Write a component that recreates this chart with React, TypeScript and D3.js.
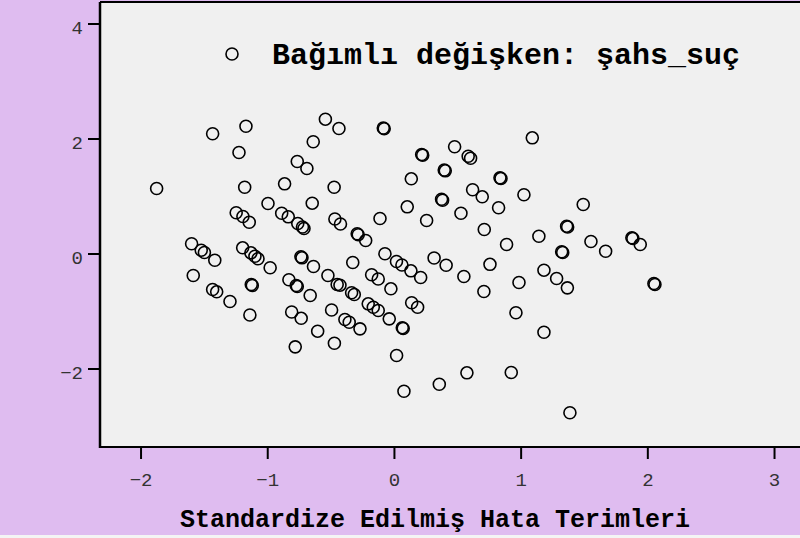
import React, { useEffect, useRef } from "react";
import * as d3 from "d3";

// standardize edilmiş hata terimleri (x) ve bağımlı değişken değerleri (y)
const hataTerimleri = [
  -1.431, -1.168, -1.223, -1.873, -1.178, -0.541, -0.434, -0.637, -0.763, -0.687,
  -0.863, -0.472, -0.994, -0.645, -1.245, -1.192, -1.142, -0.886, -0.834, -0.759,
  -0.71, -0.722, -0.466, -0.422, -1.597, -1.521, -1.496, -1.414, -1.194, -1.129,
  -1.097, -1.073, -0.977, -0.726, -0.734, -0.635, -0.521, -1.584, -0.829, -0.763,
  -0.771, -1.431, -1.399, -1.294, -1.118, -1.126, -1.137, -0.661, -0.448, -0.807,
  -0.732, -0.602, -0.492, -0.47, -0.779, -0.077, -0.084, 0.227, 0.219, 0.479,
  0.586, 0.605, 1.092, 0.405, 0.397, 0.137, 0.845, 0.837, 0.621, 0.697,
  1.026, 0.384, 0.376, 0.105, 0.529, 0.826, -0.11, 0.258, -0.29, -0.282,
  -0.223, 0.713, 1.144, 1.363, 1.371, 0.889, 1.324, 1.332, -0.071, 0.02,
  0.063, 0.134, 0.317, 0.412, -0.325, 0.758, 1.184, 1.284, 1.369, -0.176,
  -0.124, 0.211, 0.552, 0.987, 1.494, 1.555, 1.671, 1.878, 1.886, 1.944,
  2.052, 2.06, 1.184, 1.389, -0.426, -0.334, -0.313, -0.024, 0.71, -0.203,
  -0.163, -0.124, 0.14, 0.187, -0.037, -0.387, -0.353, -0.268, 0.073, 0.066,
  0.021, 0.963, 0.079, 0.358, 0.576, 0.926,
];

const bagimliDegerler = [
  2.082, 2.214, 1.757, 1.13, 1.153, 2.336, 2.174, 1.943, 1.6, 1.478,
  1.212, 1.153, 0.87, 0.875, 0.708, 0.643, 0.544, 0.701, 0.638, 0.522,
  0.435, 0.461, 0.6, 0.513, 0.169, 0.057, 0.017, -0.118, 0.099, 0.012,
  -0.047, -0.092, -0.247, -0.075, -0.057, -0.226, -0.383, -0.383, -0.457, -0.574,
  -0.557, -0.626, -0.666, -0.835, -0.557, -0.539, -1.07, -0.73, -0.539, -1.017,
  -1.127, -1.351, -0.983, -1.56, -1.623, 2.169, 2.183, 1.71, 1.722, 1.856,
  1.692, 1.657, 2.012, 1.438, 1.452, 1.299, 1.304, 1.316, 1.108, 0.986,
  1.021, 0.927, 0.943, 0.812, 0.701, 0.795, 0.609, 0.574, 0.343, 0.326,
  0.226, 0.417, 0.301, 0.475, 0.461, 0.157, 0.03, 0.017, -0.005, -0.139,
  -0.2, -0.301, -0.078, -0.205, -0.157, -0.188, -0.29, -0.435, -0.597, -0.37,
  -0.443, -0.417, -0.4, -0.504, 0.852, 0.209, 0.04, 0.273, 0.261, 0.157,
  -0.522, -0.539, -1.369, -2.77, -0.551, -0.683, -0.713, -0.614, -0.661, -0.875,
  -0.934, -0.991, -0.857, -0.934, -1.136, -1.148, -1.195, -1.31, -1.304, -1.29,
  -1.774, -1.031, -2.395, -2.273, -2.075, -2.07,
];

const xTicks = [-2, -1, 0, 1, 2, 3];
const yTicks = [-2, 0, 2, 4];
const xBaslik = "Standardize Edilmiş Hata Terimleri";
const legendYazi = "Bağımlı değişken: şahs_suç";

export default function App() {
  const ref = useRef<SVGSVGElement>(null);

  useEffect(() => {
    if (!ref.current) return;
    const width = 800;
    const height = 538;
    const left = 100, right = 800, top = 2, bottom = 447;

    const svg = d3.select(ref.current);
    svg.selectAll("*").remove();
    svg.attr("width", width).attr("height", height);

    svg.append("rect").attr("width", width).attr("height", height).attr("fill", "#f4f4f4");
    svg.append("rect").attr("width", width).attr("height", 535).attr("fill", "#dfbcf0");
    svg.append("rect")
      .attr("x", left).attr("y", top)
      .attr("width", right - left).attr("height", bottom - top)
      .attr("fill", "#f0f0f0");

    const x = d3.scaleLinear().domain([-2.32, 3.205]).range([left, right]);
    const y = d3.scaleLinear().domain([-3.365, 4.374]).range([bottom, top]);

    const mono = "'Liberation Mono', 'Courier New', monospace";
    const fmt = (d: number) => (d < 0 ? "\u2212" + Math.abs(d) : String(d));

    // eksenler
    const xAxis = svg.append("g")
      .attr("transform", `translate(0,${bottom})`)
      .call(d3.axisBottom(x).tickValues(xTicks).tickFormat(fmt as any)
        .tickSize(12).tickSizeOuter(0).tickPadding(14));
    const yAxis = svg.append("g")
      .attr("transform", `translate(${left},0)`)
      .call(d3.axisLeft(y).tickValues(yTicks).tickFormat(fmt as any)
        .tickSize(12).tickSizeOuter(0).tickPadding(5));

    [xAxis, yAxis].forEach((ax) => {
      ax.select(".domain").remove();
      ax.selectAll("line").attr("stroke", "#000").attr("stroke-width", 2);
      ax.selectAll("text")
        .style("font-family", mono)
        .style("font-size", "19px")
        .attr("fill", "#333");
    });
    yAxis.selectAll("text").attr("dy", "0.55em");

    // çerçeve çizgileri
    svg.append("line").attr("x1", left).attr("x2", left).attr("y1", top).attr("y2", bottom + 1)
      .attr("stroke", "#000").attr("stroke-width", 2.5);
    svg.append("line").attr("x1", left).attr("x2", right).attr("y1", bottom).attr("y2", bottom)
      .attr("stroke", "#000").attr("stroke-width", 2);
    svg.append("line").attr("x1", left).attr("x2", right).attr("y1", top).attr("y2", top)
      .attr("stroke", "#000").attr("stroke-width", 2);

    // noktalar
    svg.append("g")
      .selectAll("circle")
      .data(hataTerimleri.map((v, i) => [v, bagimliDegerler[i]]))
      .enter().append("circle")
      .attr("cx", (d) => x(d[0]))
      .attr("cy", (d) => y(d[1]))
      .attr("r", 6)
      .attr("fill", "none")
      .attr("stroke", "#000")
      .attr("stroke-width", 1.6);

    // legend
    svg.append("circle")
      .attr("cx", 232).attr("cy", 54).attr("r", 6)
      .attr("fill", "none").attr("stroke", "#000").attr("stroke-width", 1.6);
    svg.append("text")
      .attr("x", 272).attr("y", 64)
      .style("font-family", mono).style("font-size", "30px").style("font-weight", "bold")
      .text(legendYazi);

    // x ekseni başlığı
    svg.append("text")
      .attr("x", 435).attr("y", 527)
      .attr("text-anchor", "middle")
      .style("font-family", mono).style("font-size", "25px").style("font-weight", "bold")
      .text(xBaslik);
  }, []);

  return (
    <div style={{ position: "absolute", left: 0, top: 0 }}>
      <svg ref={ref} style={{ display: "block" }} />
    </div>
  );
}
